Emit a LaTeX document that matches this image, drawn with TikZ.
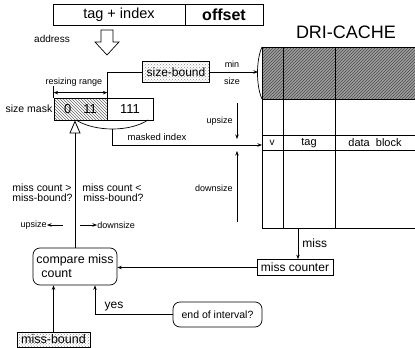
\documentclass[tikz,border=0pt]{standalone}
\usepackage{fontspec}
\setmainfont{Liberation Sans}
\usetikzlibrary{arrows.meta,positioning,patterns,calc}

\begin{document}
\begin{tikzpicture}[
  x=1pt, y=-1pt, line width=0.7pt,
  >={Stealth[length=4.5pt,width=3.5pt]},
  box/.style={draw, inner sep=1pt, font=\fontsize{12}{13}\selectfont},
  rbox/.style={draw, rounded corners=7pt, align=left, inner sep=1pt, font=\fontsize{12.4}{14}\selectfont},
  lbl/.style={inner sep=0pt, font=\fontsize{9}{10}\selectfont},
  arr/.style={->},
  dotfill/.style={pattern=crosshatch dots, pattern color=black!45},
]
\useasboundingbox (0,0) rectangle (415,348);

% address
\node[box, minimum width=132pt, minimum height=21pt, font=\fontsize{14.5}{15}\selectfont] (tagidx) at (119,14.5) {tag + index};
\node[box, minimum width=78pt, minimum height=21pt, font=\fontsize{16}{16}\selectfont\bfseries] (offset) at (224,14.5) {offset};
\node[lbl, font=\fontsize{10}{11}\selectfont] (addrlbl) at (52,39) {address};
\draw[fill=white] (101,30) -- (113,30) -- (113,42) -- (119,42) -- (107,55) -- (95,42) -- (101,42) -- cycle;

% cache array
\node[font=\fontsize{18}{18}\selectfont] (title) at (346,32) {DRI-CACHE};
\fill[black!38] (262,47) rectangle (420,99);
\fill[pattern=north east lines, pattern color=black!70] (262,47) rectangle (420,99);
\node[draw, minimum width=160pt, minimum height=181pt, anchor=north west, inner sep=0pt] (cache) at (262,47) {};
\draw (262,99) -- (420,99);
\draw (262,135) -- (420,135);
\draw (262,150) -- (420,150);
\draw (283,47) -- (283,228);
\draw (335,47) -- (335,228);
\node[lbl, font=\fontsize{10}{11}\selectfont] (vcol) at (272,143) {v};
\node[lbl, font=\fontsize{11}{12}\selectfont] (tagcol) at (309,143) {tag};
\node[lbl, font=\fontsize{11}{12}\selectfont] (datacol) at (375,143) {data\ \ block};
\draw (262,47) .. controls (256,60) and (256,86) .. (262,99);
\coordinate (minend) at (258,72);
\coordinate (idxin) at (262,145);
\coordinate (missout) at (298,228);

% size bound and mask
\node[box, dotfill, minimum width=67pt, minimum height=21pt] (sizebound) at (176,72) {size-bound};
\draw[arr] (sizebound) -- (minend);
\node[lbl] (minlbl) at (232,64) {min};
\node[lbl] (sizelbl) at (232,81) {size};

\node[box, pattern=north west lines, pattern color=black!60, minimum width=53pt, minimum height=22pt, font=\fontsize{13}{13}\selectfont] (maskhi) at (80.5,109) {0\hspace{12pt}11};
\node[box, minimum width=46pt, minimum height=22pt, font=\fontsize{13}{13}\selectfont] (masklo) at (130,109) {111};
\node[lbl, anchor=east, font=\fontsize{10.5}{11}\selectfont] (masklbl) at ([xshift=-1pt]maskhi.west) {size mask};

\draw (sizebound.west) -| (maskhi.north east);
\draw[<->] ($(maskhi.north west)+(0,-5)$) -- ($(maskhi.north east)+(0,-5)$);
\draw (maskhi.north west) -- +(0,-12);
\node[lbl] (rangelbl) at (74,82) {resizing range};

\draw (76,120) .. controls (95,132) and (130,132) .. (148,120);
\coordinate (arcmid) at (112,129);
\draw[arr] (arcmid) |- (idxin);
\node[lbl, font=\fontsize{9.5}{10}\selectfont] (idxlbl) at (157,137) {masked index};

% upsize / downsize
\coordinate (upsz) at (237,103);
\coordinate (upszend) at (237,139);
\draw[arr] (upsz) -- (upszend);
\node[lbl, anchor=east] (upszlbl) at (233,121) {upsize};
\coordinate (dnsz) at (237,222);
\coordinate (dnszend) at (237,151);
\draw[arr] (dnsz) -- (dnszend);
\node[lbl, anchor=east] (dnszlbl) at (233,188) {downsize};

% compare
\node[rbox, minimum width=84pt, minimum height=37pt] (compare) at (75,266.5) {compare miss\\\hspace{5pt}count};
\draw[line width=0.8pt, -{Triangle[open,length=13pt,width=11pt]}] (compare.north) -- (compare.north |- maskhi.south);
\node[lbl, align=left, anchor=west, font=\fontsize{10.5}{10}\selectfont] (gtlbl) at (12,193) {miss count >\\miss-bound?};
\node[lbl, align=left, anchor=west, font=\fontsize{10.5}{10}\selectfont] (ltlbl) at (82,193) {miss count <\\\hspace{1pt}miss-bound?};
\coordinate (upsrc) at (63,225);
\node[lbl, anchor=east] (uplbl) at (47,225) {upsize};
\draw[arr] (upsrc) -- (uplbl);
\coordinate (dnsrc) at (80,225);
\node[lbl, anchor=west] (dnlbl) at (97,225) {downsize};
\draw[arr] (dnsrc) -- (dnlbl);

% miss counter
\node[box, minimum width=76pt, minimum height=16pt] (misscnt) at (295,267.5) {miss counter};
\draw[arr] (missout) -- (missout |- misscnt.north) node[midway, right=4pt, lbl, font=\fontsize{12}{12}\selectfont] (misslbl) {miss};
\draw[arr] (misscnt.west) -- (misscnt.west -| compare.east);

% interval
\node[rbox, minimum width=89pt, minimum height=25pt, font=\fontsize{10.5}{11}\selectfont] (endint) at (217.5,314.5) {end of interval?};
\draw[arr] (endint.west) -| ($(compare.south)+(20,0)$);
\node[lbl, font=\fontsize{12}{12}\selectfont] (yeslbl) at (114,307) {yes};

\node[box, dotfill, inner ysep=0pt, minimum width=73pt, minimum height=15pt, font=\fontsize{12.5}{13}\selectfont] (missbound) at (53.5,339.5) {miss-bound};
\draw[arr] (missbound.north) -- (missbound.north |- compare.south);

\end{tikzpicture}
\end{document}
